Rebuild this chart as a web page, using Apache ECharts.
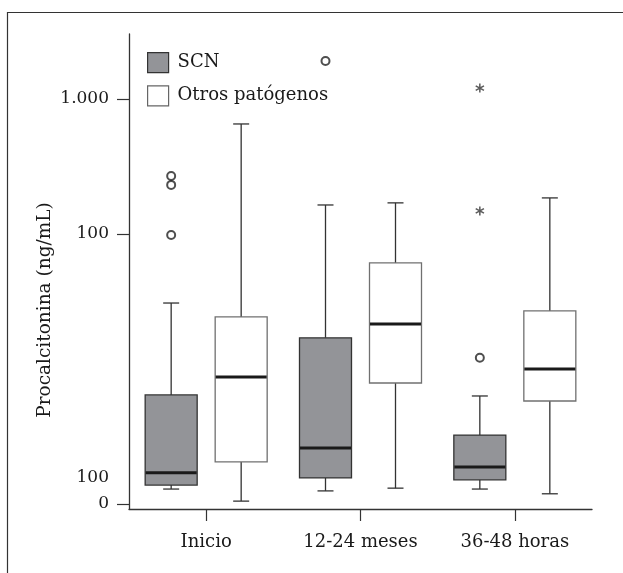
<!DOCTYPE html>
<html>
<head>
<meta charset="utf-8">
<script src="https://cdn.jsdelivr.net/npm/echarts@6/dist/echarts.min.js"></script>
<style>
html,body{margin:0;padding:0;background:#fff;}
#chart{width:623px;height:573px;}
</style>
</head>
<body>
<div id="chart"></div>
<script>
// ---- data (ng/mL) ----
const categories = ['Inicio', '12-24 meses', '36-48 horas'];
const seriesNames = ['SCN', 'Otros patógenos'];
// [low whisker, Q1, median, Q3, high whisker]
const scnBox = [
  [1.29, 1.38, 1.70, 6.42, 30.8],
  [1.25, 1.56, 2.60, 17.0, 164],
  [1.29, 1.51, 1.88, 3.24, 6.31]
];
const otrosBox = [
  [1.05, 2.05, 8.73, 24.3, 653],
  [1.31, 7.87, 21.5, 61.0, 170],
  [1.19, 5.79, 10.0, 26.9, 185]
];
// outliers (circles) of SCN: [category index, value]
const scnOutliers = [[0, 269], [0, 231], [0, 98.3], [1, 1910], [2, 12.1]];
// extreme values (asterisks) of SCN
const scnExtremes = [[2, 1205], [2, 148]];
// y axis tick labels as printed
const yTickValues = [1, 100, 1000];
const yLabelValues = [1, 1.56, 100, 1000];
const yLabelTexts = ['0', '100', '100', '1.000'];

// ---- styles ----
const FONT = 'DejaVu Serif';
const OFFSET = 35;   // px offset of each box from category centre
const BOX_W = 52;
const CAP_W = 16;
const GRAY = '#939498';
const DARK = '#333333';
const TEXT = '#1a1a1a';

function boxRenderer(offset, fill, stroke) {
  return function (params, api) {
    const ci = api.value(0);
    const pLow = api.coord([ci, api.value(1)]);
    const pQ1 = api.coord([ci, api.value(2)]);
    const pMed = api.coord([ci, api.value(3)]);
    const pQ3 = api.coord([ci, api.value(4)]);
    const pHigh = api.coord([ci, api.value(5)]);
    const x = pMed[0] + offset;
    const h = BOX_W / 2, c = CAP_W / 2;
    const ls = { stroke: DARK, lineWidth: 1.3 };
    return {
      type: 'group',
      children: [
        { type: 'line', shape: { x1: x, y1: pHigh[1], x2: x, y2: pQ3[1] }, style: ls },
        { type: 'line', shape: { x1: x, y1: pQ1[1], x2: x, y2: pLow[1] }, style: ls },
        { type: 'line', shape: { x1: x - c, y1: pHigh[1], x2: x + c, y2: pHigh[1] }, style: ls },
        { type: 'line', shape: { x1: x - c, y1: pLow[1], x2: x + c, y2: pLow[1] }, style: ls },
        { type: 'rect', shape: { x: x - h, y: pQ3[1], width: BOX_W, height: pQ1[1] - pQ3[1] },
          style: { fill: fill, stroke: stroke, lineWidth: 1.3 } },
        { type: 'line', shape: { x1: x - h + 0.5, y1: pMed[1], x2: x + h - 0.5, y2: pMed[1] },
          style: { stroke: '#1a1a1a', lineWidth: 3 } }
      ]
    };
  };
}

function toRows(box) {
  return box.map((b, i) => [i].concat(b));
}

const asteriskPath = 'path://M-0.8,-5L0.8,-5L0.8,5L-0.8,5Z M-4.73,1.81L3.93,-3.19L4.73,-1.81L-3.93,3.19Z M-3.93,-3.19L4.73,1.81L3.93,3.19L-4.73,-1.81Z';

const chart = echarts.init(document.getElementById('chart'), null, { renderer: 'canvas' });
chart.setOption({
  backgroundColor: '#fff',
  animation: false,
  textStyle: { fontFamily: FONT },
  grid: { left: 129, right: 31, top: 34, bottom: 64, containLabel: false },
  legend: {
    orient: 'vertical',
    left: 142, top: 47,
    itemWidth: 21, itemHeight: 20, itemGap: 12,
    icon: 'rect',
    selectedMode: false,
    textStyle: { fontFamily: FONT, fontSize: 18, color: TEXT, padding: [0, 0, 0, 4] },
    data: [
      { name: seriesNames[0], icon: 'rect', itemStyle: { color: GRAY, borderColor: DARK, borderWidth: 1.2 } },
      { name: seriesNames[1], icon: 'rect', itemStyle: { color: '#fff', borderColor: '#666', borderWidth: 1.2 } }
    ]
  },
  xAxis: {
    type: 'category',
    data: categories,
    boundaryGap: true,
    axisLine: { show: true, lineStyle: { color: DARK, width: 1.3 } },
    axisTick: { show: true, alignWithLabel: true, length: 12, lineStyle: { color: DARK, width: 1.2 } },
    axisLabel: { fontFamily: FONT, fontSize: 18, color: TEXT, margin: 24 },
    splitLine: { show: false }
  },
  yAxis: {
    type: 'log',
    logBase: 10,
    min: 0.918,
    max: 3029,
    axisLine: { show: true, lineStyle: { color: DARK, width: 1.3 } },
    axisTick: { show: true, length: 12, customValues: yTickValues, lineStyle: { color: DARK, width: 1.2 } },
    axisLabel: {
      fontFamily: FONT, fontSize: 17, color: TEXT, margin: 20,
      customValues: yLabelValues,
      formatter: function (v) {
        let best = 0, bd = Infinity;
        yLabelValues.forEach((x, i) => {
          const d = Math.abs(Math.log10(x) - Math.log10(v));
          if (d < bd) { bd = d; best = i; }
        });
        return yLabelTexts[best];
      }
    },
    splitLine: { show: false },
    minorTick: { show: false }
  },
  series: [
    {
      name: seriesNames[0], type: 'custom',
      itemStyle: { color: GRAY, borderColor: DARK },
      renderItem: boxRenderer(-OFFSET, GRAY, DARK),
      encode: { x: 0, y: [1, 2, 3, 4, 5] },
      data: toRows(scnBox), z: 2
    },
    {
      name: seriesNames[1], type: 'custom',
      itemStyle: { color: '#fff', borderColor: '#666' },
      renderItem: boxRenderer(OFFSET, '#ffffff', '#707070'),
      encode: { x: 0, y: [1, 2, 3, 4, 5] },
      data: toRows(otrosBox), z: 2
    },
    {
      name: 'outliers', type: 'scatter',
      symbol: 'emptyCircle', symbolSize: 8,
      symbolOffset: [-OFFSET, 0],
      itemStyle: { color: '#222', borderColor: '#222', borderWidth: 1.3 },
      data: scnOutliers, z: 3
    },
    {
      name: 'extremes', type: 'scatter',
      symbol: asteriskPath, symbolSize: 9,
      symbolOffset: [-OFFSET, 0],
      itemStyle: { color: '#333' },
      data: scnExtremes, z: 3
    }
  ],
  graphic: [
    { type: 'polyline', silent: true,
      shape: { points: [[7.5, 580], [7.5, 12.5], [623, 12.5]] },
      style: { stroke: DARK, lineWidth: 1.2, fill: null } },
    { type: 'text', silent: true, x: 45, y: 310, rotation: Math.PI / 2,
      style: { text: 'Procalcitonina (ng/mL)', font: '18.5px "DejaVu Serif"', fill: TEXT,
               align: 'center', verticalAlign: 'middle' } }
  ]
});
</script>
</body>
</html>
